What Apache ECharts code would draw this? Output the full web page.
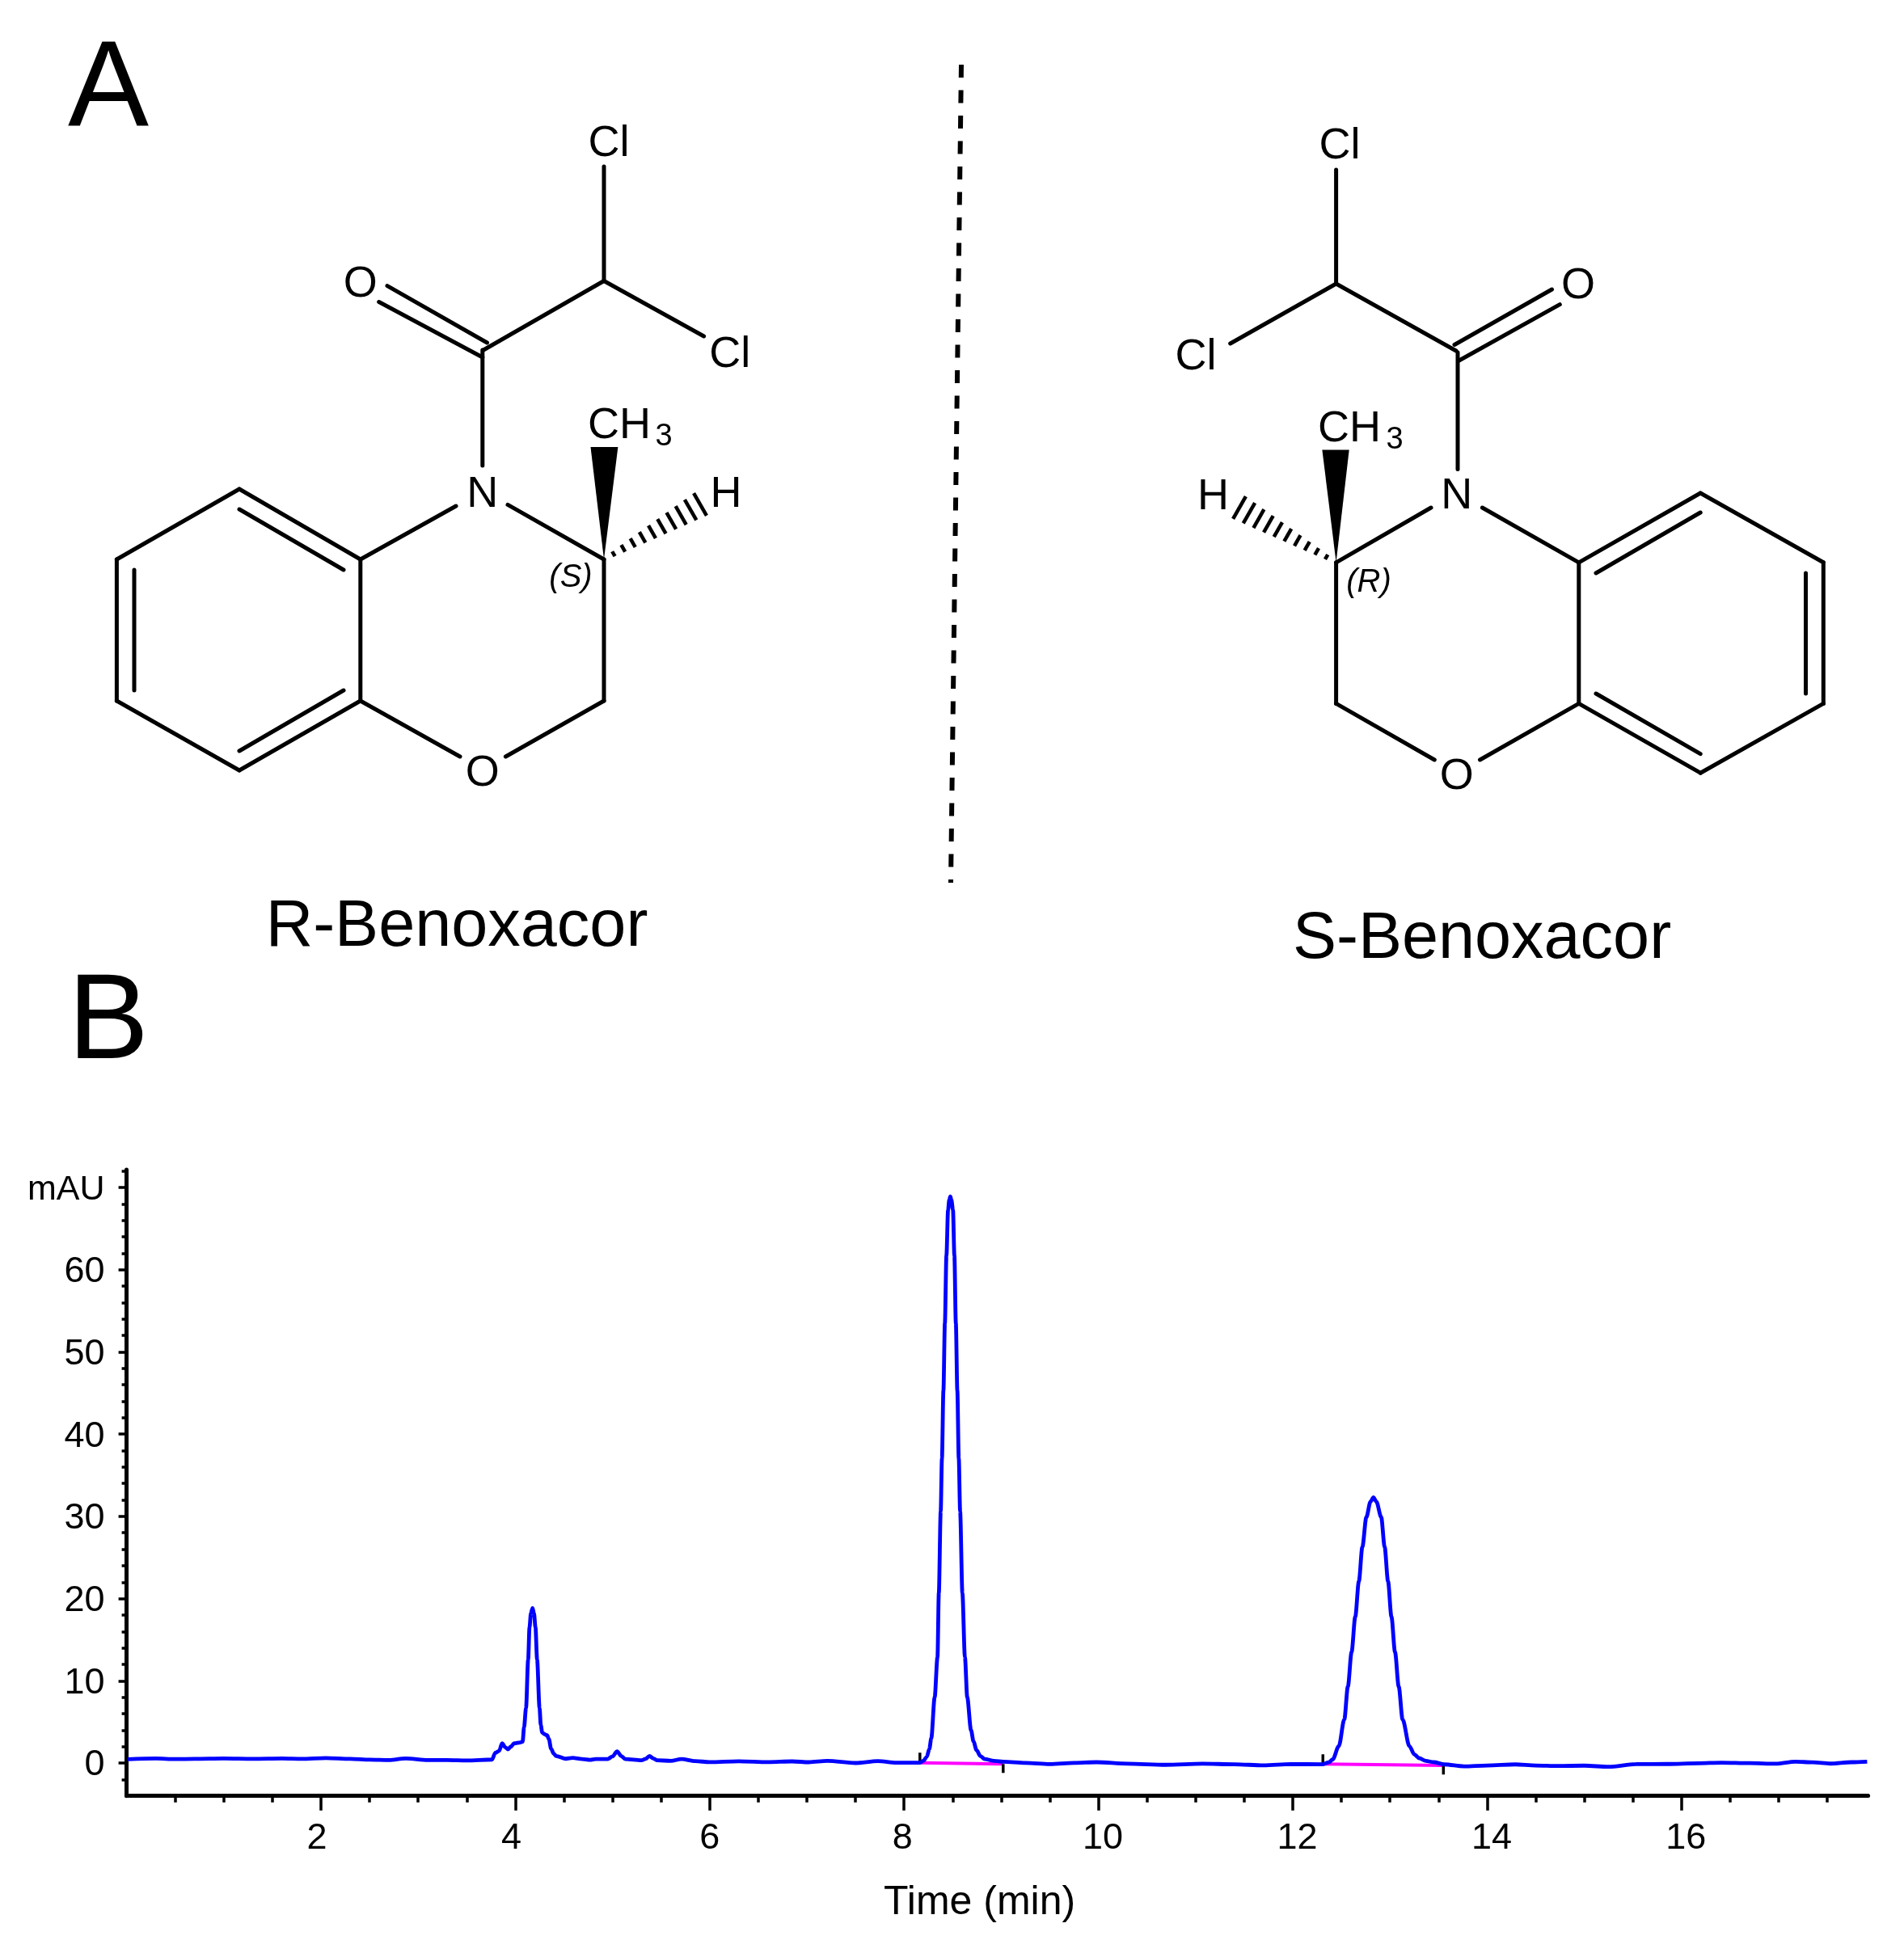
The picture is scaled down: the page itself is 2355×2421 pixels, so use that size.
<!DOCTYPE html>
<html>
<head>
<meta charset="utf-8">
<title>Benoxacor</title>
<script src="https://cdn.jsdelivr.net/npm/echarts@6/dist/echarts.min.js"></script>
<style>
  html, body { margin: 0; padding: 0; background: #fff; }
  #main { width: 2355px; height: 2421px; }
</style>
</head>
<body>
<div id="main"></div>
<script>
// chromatogram
var timeMin = [0.01, 0.3, 0.5, 0.7, 1.0, 1.3, 1.6, 1.8, 2.05, 2.3, 2.5, 2.7, 2.87, 3.1, 3.3, 3.5, 3.76,
  3.794, 3.833, 3.864, 3.897, 3.925, 3.952, 3.988, 4.05, 4.075, 4.09, 4.11, 4.132, 4.146, 4.16, 4.177, 4.192,
  4.207, 4.224, 4.249, 4.262, 4.277, 4.3, 4.327, 4.345, 4.368, 4.395, 4.42, 4.52, 4.59, 4.687, 4.77, 4.826, 4.95,
  5.0, 5.047, 5.09, 5.13, 5.297, 5.34, 5.38, 5.42, 5.46, 5.6, 5.71, 5.85, 6.0, 6.3, 6.6, 6.85, 7.02, 7.21, 7.5,
  7.73, 7.92, 8.163, 8.2, 8.234, 8.26, 8.28, 8.315, 8.344, 8.358, 8.377, 8.39, 8.405, 8.42, 8.436, 8.453, 8.465,
  8.476, 8.487, 8.503, 8.518, 8.533, 8.548, 8.563, 8.577, 8.6, 8.626, 8.65, 8.689, 8.715, 8.746, 8.785, 8.83,
  8.926, 9.02, 9.25, 9.5, 9.75, 9.98, 10.3, 10.69, 11.07, 11.4, 11.7, 11.98, 12.31, 12.37, 12.41, 12.474, 12.53, 12.567,
  12.605, 12.643, 12.68, 12.716, 12.757, 12.8, 12.83, 12.86, 12.91, 12.945, 12.98, 13.015, 13.052, 13.09, 13.13, 13.2,
  13.25, 13.3, 13.37, 13.45, 13.56, 13.76, 14.0, 14.29, 14.5, 14.73, 15.0, 15.25, 15.53, 15.85, 16.17, 16.41, 16.7,
  16.97, 17.17, 17.35, 17.53, 17.75, 17.91];
var absorbance = [0.45, 0.55, 0.48, 0.5, 0.55, 0.5, 0.55, 0.5, 0.6, 0.5, 0.4, 0.35, 0.55, 0.35, 0.35, 0.3, 0.42,
  1.25, 1.47, 2.39, 1.9, 1.67, 1.97, 2.39, 2.5, 2.6, 4.36, 6.7, 12.6, 16.5, 18.2, 18.85, 18.2,
  16.5, 12.6, 6.7, 4.6, 3.7, 3.5, 3.37, 2.9, 1.74, 1.15, 0.85, 0.52, 0.62, 0.49, 0.39, 0.49, 0.49,
  0.8, 1.41, 0.85, 0.49, 0.33, 0.5, 0.85, 0.55, 0.33, 0.26, 0.49, 0.23, 0.12, 0.22, 0.12, 0.2, 0.1, 0.26, 0,
  0.23, 0.03, 0.03, 0.28, 0.76, 1.7, 3.0, 8, 12.9, 20.7, 30.6, 37.1, 45.3, 53.5, 61.7, 67.3, 68.5,
  68.9, 68.5, 67.3, 61.7, 53.5, 45.3, 37.1, 30.6, 20.7, 12.9, 8, 4, 2.6, 1.57, 0.85, 0.49,
  0.26, 0.16, 0.02, -0.13, 0.02, 0.1, -0.08, -0.22, -0.09, -0.15, -0.29, -0.13, -0.16, 0.08, 0.42, 2.06, 5.3, 9.3,
  13.5, 17.8, 22.1, 26.3, 29.9, 31.8, 32.3, 31.8, 29.9, 26.3, 22.1, 17.8, 13.5, 9.3, 5.3, 2.06,
  1.05, 0.59, 0.25, 0.1, -0.17, -0.4, -0.3, -0.17, -0.3, -0.36, -0.32, -0.46, -0.13, -0.12, -0.03, 0.04, -0.02,
  -0.09, 0.17, 0.08, -0.07, 0.1, 0.17];

// integration baselines under the two large peaks
var baselineA = [[8.163, 0.02], [9.02, -0.12]];
var baselineB = [[12.31, -0.12], [13.55, -0.3]];
// peak start and end markers
var markStartA = [[8.163, 0.02], [8.163, 1.25]];
var markEndA = [[9.02, -0.12], [9.02, -1.2]];
var markStartB = [[12.31, -0.12], [12.31, 1.05]];
var markEndB = [[13.55, -0.3], [13.55, -1.4]];

var xMajor = [2, 4, 6, 8, 10, 12, 14, 16];
var xMinor = [0.5, 1, 1.5, 2.5, 3, 3.5, 4.5, 5, 5.5, 6.5, 7, 7.5, 8.5, 9, 9.5, 10.5, 11, 11.5, 12.5, 13, 13.5, 14.5, 15, 15.5, 16.5, 17, 17.5];
var yMajor = [0, 10, 20, 30, 40, 50, 60, 70];
var yMinor = [-2, 2, 4, 6, 8, 12, 14, 16, 18, 22, 24, 26, 28, 32, 34, 36, 38, 42, 44, 46, 48, 52, 54, 56, 58, 62, 64, 66, 68, 72];

var FONT = '"Liberation Sans", Arial, sans-serif';
var myChart = echarts.init(document.getElementById('main'), null, { renderer: 'canvas' });

var elements = [];

function line(x1, y1, x2, y2) {
  elements.push({
    type: 'line',
    shape: { x1: x1, y1: y1, x2: x2, y2: y2 },
    style: { stroke: '#000', lineWidth: 5, lineCap: 'round' }
  });
}

function label(text, x, y, size, italic) {
  elements.push({
    type: 'text',
    x: x,
    y: y,
    style: {
      text: text,
      fill: '#000',
      font: (italic ? 'italic ' : '') + size + 'px ' + FONT,
      textAlign: 'center',
      textVerticalAlign: 'middle'
    }
  });
}

function wedge(tip, a, b) {
  elements.push({
    type: 'polygon',
    shape: { points: [tip, a, b] },
    style: { fill: '#000' }
  });
}

// hashed bond, bars grow towards the H
function hash(x1, y1, x2, y2) {
  var dx = x2 - x1, dy = y2 - y1;
  var len = Math.sqrt(dx * dx + dy * dy);
  var nx = -dy / len, ny = dx / len;
  for (var i = 0; i < 10; i++) {
    var f = (i + 1) / 10;
    var half = 2 + 14 * f;
    var cx = x1 + dx * f, cy = y1 + dy * f;
    elements.push({
      type: 'line',
      shape: { x1: cx - nx * half, y1: cy - ny * half, x2: cx + nx * half, y2: cy + ny * half },
      style: { stroke: '#000', lineWidth: 4.5 }
    });
  }
}

// left molecule
line(144.4, 692, 296, 605); line(296, 605, 445.8, 692); line(445.8, 692, 445.8, 867);
line(445.8, 867, 296, 953); line(296, 953, 144.4, 867); line(144.4, 867, 144.4, 692);
line(166, 705, 166, 854); line(296, 630, 425, 705); line(425, 854, 296, 929);
line(445.8, 692, 564, 626); line(628, 624.4, 747, 692); line(747, 692, 747, 867);
line(747, 867, 625.4, 936); line(445.8, 867, 569, 936);
line(596.8, 576, 596.8, 433); line(598, 433, 747, 347.5); line(747, 347.5, 747, 206);
line(747, 347.5, 870.6, 416); line(602.5, 424, 479, 353.6); line(596.8, 442, 468.7, 373.5);
wedge([747, 692], [730.5, 553], [764.4, 553]);
hash(747, 692, 866, 624);
label('N', 596.8, 612, 54); label('O', 596.8, 957, 54); label('O', 445.8, 352, 54);
label('Cl', 753, 178, 54); label('Cl', 902.7, 439, 54); label('H', 898, 612, 54);
label('CH', 766, 527, 54); label('3', 821, 541, 38);
label('(S)', 706, 715, 40, true);
label('R-Benoxacor', 565, 1148, 81);

// right molecule
line(1952.8, 695.8, 2103.2, 610); line(2103.2, 610, 2255.3, 695.8); line(2255.3, 695.8, 2255.3, 870.4);
line(2255.3, 870.4, 2103.2, 956.2); line(2103.2, 956.2, 1952.8, 870.4); line(1952.8, 870.4, 1952.8, 695.8);
line(1974, 709, 2103.2, 634); line(2233.5, 709, 2233.5, 858); line(2103.2, 932.7, 1974, 858);
line(1833.4, 628, 1952.8, 695.8); line(1770, 628, 1652.6, 695.8); line(1652.6, 695.8, 1652.6, 870.4);
line(1652.6, 870.4, 1774.3, 940); line(1952.8, 870.4, 1830.5, 940);
line(1803, 580.6, 1803, 436); line(1801, 434, 1652.6, 351); line(1652.6, 351, 1652.6, 210);
line(1652.6, 351, 1521.7, 425); line(1799, 426.5, 1919.5, 358); line(1804.7, 446, 1929.3, 376.6);
wedge([1652.6, 695.8], [1635.4, 556.4], [1668.7, 556.4]);
hash(1652.6, 695.8, 1533, 628);
label('N', 1801.8, 614, 54); label('O', 1801.8, 961, 54); label('O', 1952, 354, 54);
label('Cl', 1657, 181, 54); label('Cl', 1479, 442, 54); label('H', 1500.5, 615, 54);
label('CH', 1669, 531, 54); label('3', 1725, 545, 38);
label('(R)', 1693, 721, 40, true);
label('S-Benoxacor', 1833, 1163, 81);

// panel letters and the mirror line
label('A', 134, 114, 150);
label('B', 134, 1268, 150);
elements.push({
  type: 'line',
  shape: { x1: 1189, y1: 80, x2: 1176, y2: 1092 },
  style: { stroke: '#000', lineWidth: 6, lineDash: [16, 15.5] }
});

var traceData = timeMin.map(function (t, i) { return [t, absorbance[i]]; });

function xTickLabel(v) {
  if (v === 2 || v === 4) return '{left|' + v + '}';
  if (v === 8) return '{nudge|' + v + '}';
  if (v >= 10) return '{right|' + v + '}';
  return '{plain|' + v + '}';
}

function tickStyle(padding) {
  return { color: '#000', fontSize: 45, fontFamily: FONT, padding: padding };
}

function markSeries(name, data) {
  return {
    name: name,
    type: 'line',
    data: data,
    showSymbol: false,
    lineStyle: { color: '#000', width: 3.5 }
  };
}

var option = {
  backgroundColor: '#fff',
  animation: false,
  textStyle: { fontFamily: FONT },
  graphic: { elements: elements },
  grid: { left: 156.6, top: 1447, width: 2154, height: 774.7 },
  xAxis: [{
    type: 'value',
    min: 0,
    max: 17.92,
    name: 'Time (min)',
    nameLocation: 'middle',
    nameGap: 108,
    nameTextStyle: { color: '#000', fontSize: 50, fontFamily: FONT, padding: [0, 44, 0, 0] },
    splitLine: { show: false },
    axisLine: { onZero: false, lineStyle: { color: '#000', width: 5 } },
    axisTick: { length: 18, customValues: xMajor, lineStyle: { color: '#000', width: 3.5 } },
    axisLabel: {
      customValues: xMajor,
      color: '#000',
      fontSize: 45,
      fontFamily: FONT,
      margin: 30,
      formatter: xTickLabel,
      rich: {
        plain: tickStyle(0),
        left: tickStyle([0, 10, 0, 0]),
        nudge: tickStyle([0, 4, 0, 0]),
        right: tickStyle([0, 0, 0, 11])
      }
    }
  }, {
    // only carries the minor ticks
    type: 'value',
    min: 0,
    max: 17.92,
    position: 'bottom',
    splitLine: { show: false },
    axisLine: { show: false, onZero: false },
    axisTick: { length: 8, customValues: xMinor, lineStyle: { color: '#000', width: 3.5 } },
    axisLabel: { show: false }
  }],
  yAxis: [{
    type: 'value',
    min: -4,
    max: 72.17,
    splitLine: { show: false },
    axisLine: { show: true, onZero: false, lineStyle: { color: '#000', width: 5 } },
    axisTick: { show: true, length: 10, customValues: yMajor, lineStyle: { color: '#000', width: 3.5 } },
    axisLabel: {
      customValues: yMajor,
      color: '#000',
      fontSize: 45,
      fontFamily: FONT,
      margin: 27,
      padding: [6, 0, 0, 0],
      formatter: function (v) {
        return v === 70 ? '{u|mAU}' : String(v);
      },
      rich: { u: { fontSize: 43, fontFamily: FONT, color: '#000' } }
    }
  }, {
    type: 'value',
    min: -4,
    max: 72.17,
    position: 'left',
    splitLine: { show: false },
    axisLine: { show: false, onZero: false },
    axisTick: { show: true, length: 6, customValues: yMinor, lineStyle: { color: '#000', width: 3.5 } },
    axisLabel: { show: false }
  }],
  series: [{
    name: 'Baseline 1',
    type: 'line',
    data: baselineA,
    showSymbol: false,
    lineStyle: { color: '#ff00ff', width: 4 }
  }, {
    name: 'Baseline 2',
    type: 'line',
    data: baselineB,
    showSymbol: false,
    lineStyle: { color: '#ff00ff', width: 4 }
  },
  markSeries('Start 1', markStartA),
  markSeries('End 1', markEndA),
  markSeries('Start 2', markStartB),
  markSeries('End 2', markEndB),
  {
    name: 'Trace',
    type: 'line',
    data: traceData,
    showSymbol: false,
    sampling: null,
    smooth: 0.3,
    smoothMonotone: 'x',
    lineStyle: { color: '#0000ff', width: 4.8 }
  }]
};

myChart.setOption(option);
</script>
</body>
</html>
